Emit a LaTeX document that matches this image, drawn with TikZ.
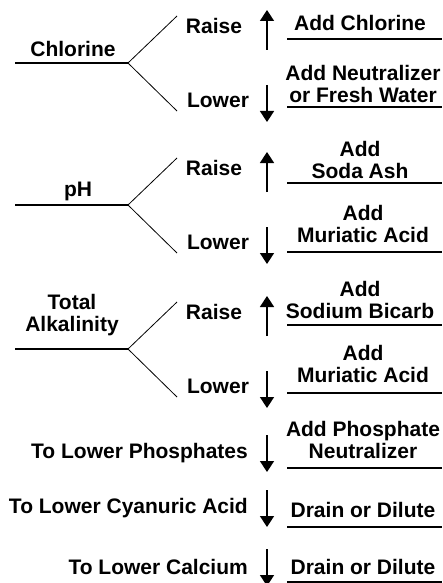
\documentclass[tikz,border=0pt]{standalone}
\usepackage{fontspec}
\setmainfont{Liberation Sans}
\usepackage{tikz}
\usetikzlibrary{arrows.meta}
\tikzset{
  lbl/.style={font=\fontsize{21}{22}\selectfont\bfseries, inner sep=0pt, align=center},
  rule/.style={line width=1.6pt},
  branch/.style={line width=0.8pt},
  updown/.style={line width=1.6pt, -{Triangle[width=14pt,length=11pt]}}
}

\begin{document}
\begin{tikzpicture}[x=1pt,y=-1pt]
  \useasboundingbox (0,0) rectangle (442,583);
  % three parameters that fork into raise / lower
  \foreach \nm/\L in {chl/63, ph/205, alk/349}{
    \coordinate (\nm-a) at (15,\L);
    \coordinate (\nm-f) at (128,\L);
    \coordinate (\nm-u) at (177,\L-47);
    \coordinate (\nm-d) at (177,\L+48);
    \draw[rule] (\nm-a) -- (\nm-f);
    \draw[branch] (\nm-u) -- (\nm-f) -- (\nm-d);
    \node[lbl] (\nm-raise) at (214,\L-37) {Raise};
    \node[lbl] (\nm-lower) at (218,\L+37) {Lower};
    \coordinate (\nm-ub) at (267,\L-13);
    \coordinate (\nm-ut) at (267,\L-53);
    \coordinate (\nm-db) at (267,\L+22);
    \coordinate (\nm-dt) at (267,\L+59);
    \draw[updown] (\nm-ub) -- (\nm-ut);
    \draw[updown] (\nm-db) -- (\nm-dt);
  }
  \node[lbl] (chl-name) at (73,49) {Chlorine};
  \node[lbl] (ph-name) at (78,191) {pH};
  \node[lbl] (alk-name) at (72,315) {Total\\Alkalinity};
  % single lowering actions
  \foreach \nm/\y/\txt in {phos/453/To Lower Phosphates, cya/508/To Lower Cyanuric Acid, cal/567/To Lower Calcium}{
    \node[lbl, anchor=east] (\nm-name) at (248,\y) {\txt};
    \coordinate (\nm-db) at (267,\y-18);
    \coordinate (\nm-dt) at (267,\y+19);
    \draw[updown] (\nm-db) -- (\nm-dt);
  }
  % what to add, each on its rule
  \node[lbl] (r1) at (360,23) {Add Chlorine};
  \node[lbl] (r2) at (363,84) {Add Neutralizer\\or Fresh Water};
  \node[lbl] (r3) at (360,160) {Add\\Soda Ash};
  \node[lbl] (r4) at (363,224) {Add\\Muriatic Acid};
  \node[lbl] (r5) at (360,300) {Add\\Sodium Bicarb};
  \node[lbl] (r6) at (363,364) {Add\\Muriatic Acid};
  \node[lbl] (r7) at (363,440) {Add Phosphate\\Neutralizer};
  \node[lbl] (r8) at (363,510) {Drain or Dilute};
  \node[lbl] (r9) at (363,567) {Drain or Dilute};
  \foreach \i/\y in {1/39,2/107,3/183,4/252,5/325,6/393,7/468,8/527,9/582}{
    \coordinate (ul\i-l) at (287,\y);
    \coordinate (ul\i-r) at (442,\y);
    \draw[rule] (ul\i-l) -- (ul\i-r);
  }
\end{tikzpicture}
\end{document}
